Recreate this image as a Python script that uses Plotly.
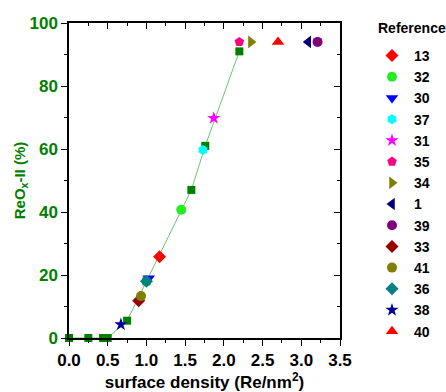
import plotly.graph_objects as go

# this work (green squares + line)
work_x = [0.0, 0.25, 0.44, 0.50, 0.75, 1.0, 1.58, 1.76, 2.2]
work_y = [0, 0, 0, 0, 5.5, 18, 47, 61, 91]

# literature references
ref_labels = ["13", "32", "30", "37", "31", "35", "34", "1", "39", "33", "41", "36", "38", "40"]
ref_x = [1.17, 1.45, 1.03, 1.73, 1.87, 2.20, 2.35, 3.09, 3.21, 0.90, 0.93, 1.00, 0.67, 2.70]
ref_y = [25.8, 40.7, 19.0, 59.7, 69.8, 94.0, 94.0, 94.0, 94.0, 11.8, 13.3, 18.0, 4.3, 94.0]
ref_symbols = ["diamond", "circle", "triangle-down", "hexagon", "star", "pentagon",
               "triangle-right", "triangle-left", "circle", "diamond", "circle",
               "diamond", "star", "triangle-up"]
ref_colors = ["#ff0000", "#22ee22", "#0000ff", "#00ffff", "#ff00ff", "#ff0080",
              "#808000", "#000080", "#800080", "#990000", "#808000",
              "#008080", "#000099", "#ff0000"]

x_ticks = [0.0, 0.5, 1.0, 1.5, 2.0, 2.5, 3.0, 3.5]
y_ticks = [0, 20, 40, 60, 80, 100]

GREEN = "#008000"
FONT = "Liberation Sans, Arial, sans-serif"

fig = go.Figure()

fig.add_trace(go.Scatter(
    x=work_x, y=work_y, mode="lines+markers",
    line=dict(color="#6cc56c", width=1),
    marker=dict(symbol="square", size=8, color=GREEN),
    showlegend=False, cliponaxis=False,
))

for lab, x, y, s, c in zip(ref_labels, ref_x, ref_y, ref_symbols, ref_colors):
    if s == "star":
        size = 10
    elif s.startswith("triangle"):
        size = 11
    else:
        size = 10
    fig.add_trace(go.Scatter(
        x=[x], y=[y], mode="markers", name=lab,
        marker=dict(symbol=s, size=size, color=c),
        cliponaxis=False,
    ))

# dummy trace to activate mirror axes
fig.add_trace(go.Scatter(x=[None], y=[None], xaxis="x2", yaxis="y2",
                         showlegend=False, hoverinfo="skip"))

axis_common = dict(showgrid=False, zeroline=False, showline=True,
                   linecolor="black", linewidth=1.5)

plot_w = 446 - 69 - 106
plot_h = 392 - 23 - 54

fig.update_layout(
    width=446, height=392,
    margin=dict(l=69, r=106, t=23, b=54, autoexpand=False),
    paper_bgcolor="white", plot_bgcolor="white",
    font=dict(family=FONT, color="black"),
    xaxis=dict(
        range=[0, 3.5], tickvals=x_ticks, ticktext=[f"{v:.1f}" for v in x_ticks],
        ticks="outside", ticklen=6, tickwidth=1.2, tickcolor="black",
        minor=dict(dtick=0.25, ticks="outside", ticklen=3, tickcolor="black"),
        tickfont=dict(size=17, weight="bold", color="black"),
        title=dict(text="surface density (Re/nm<sup>2</sup>)",
                   font=dict(size=17, weight="bold", color="black"), standoff=3),
        **axis_common,
    ),
    yaxis=dict(
        range=[0, 100], tickvals=y_ticks,
        ticks="outside", ticklen=6, tickwidth=1.2, tickcolor="black",
        minor=dict(dtick=10, ticks="outside", ticklen=3, tickcolor="black"),
        tickfont=dict(size=17, weight="bold", color=GREEN),
        title=dict(text="ReO<sub>x</sub>-II (%)",
                   font=dict(size=15, weight="bold", color=GREEN), standoff=0),
        **axis_common,
    ),
    xaxis2=dict(
        range=[0, 3.5], overlaying="x", side="top", anchor="y",
        tickvals=x_ticks, showticklabels=False,
        ticks="inside", ticklen=6, tickwidth=1.2, tickcolor="black",
        minor=dict(dtick=0.25, ticks="inside", ticklen=3, tickcolor="black"),
        **axis_common,
    ),
    yaxis2=dict(
        range=[0, 100], overlaying="y", side="right", anchor="x",
        tickvals=y_ticks, showticklabels=False,
        ticks="inside", ticklen=6, tickwidth=1.2, tickcolor="black",
        minor=dict(dtick=10, ticks="inside", ticklen=3, tickcolor="black"),
        **axis_common,
    ),
    legend=dict(
        x=370 / 446, y=(392 - 40) / 392, xref="container", yref="container",
        xanchor="left", yanchor="top",
        font=dict(size=14, weight="bold", color="black"),
        bgcolor="rgba(0,0,0,0)", borderwidth=0,
        tracegroupgap=0, itemwidth=34, maxheight=390,
    ),
    annotations=[dict(
        text="Reference", x=(376 - 69) / plot_w, y=(392 - 54 - 28) / plot_h,
        xref="paper", yref="paper",
        showarrow=False, xanchor="left", yanchor="middle",
        font=dict(size=14, weight="bold", color="black"),
    )],
)

fig.write_html("out.html", config={"displayModeBar": False},
               post_script="document.body.style.margin='0';document.body.style.padding='0';")
